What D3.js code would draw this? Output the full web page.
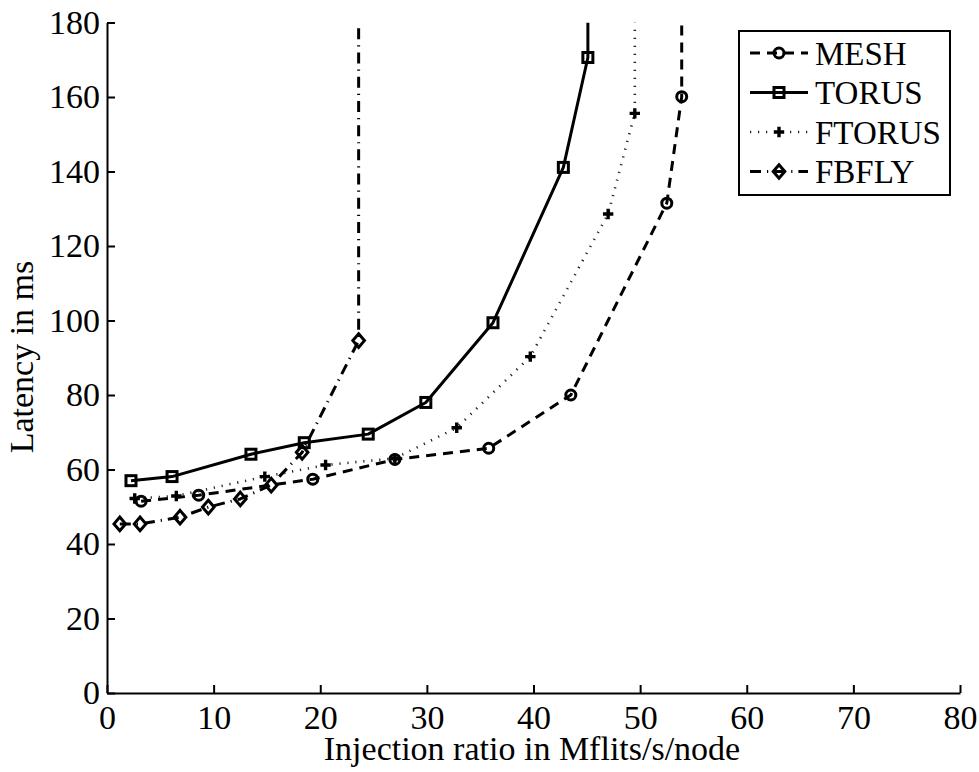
<!DOCTYPE html>
<html><head><meta charset="utf-8">
<script src="https://cdn.jsdelivr.net/npm/d3@7"></script>
<style>body{margin:0;background:#fff}svg{display:block}</style>
</head><body><svg id="c" width="979" height="772"></svg>
<script>
// ---- data ----
const seriesNames = ["MESH", "TORUS", "FTORUS", "FBFLY"];
const meshX   = [3.2, 8.6, 19.3, 27.0, 35.8, 43.5, 52.5, 53.9];
const meshY   = [51.5, 53.1, 57.4, 62.7, 65.7, 80.0, 131.5, 160.1];
const torusX  = [2.25, 6.1, 13.5, 18.5, 24.5, 29.9, 36.2, 42.8, 45.1];
const torusY  = [57.0, 58.1, 64.1, 67.2, 69.5, 78.0, 99.4, 141.1, 170.6];
const ftorusX = [2.6, 6.5, 14.8, 20.5, 27.0, 32.8, 39.7, 47.0, 49.5];
const ftorusY = [52.2, 52.9, 58.1, 61.2, 63.0, 71.2, 90.3, 128.6, 155.6];
const fbflyX  = [1.2, 3.1, 6.85, 9.5, 12.5, 15.4, 18.3, 23.6];
const fbflyY  = [45.4, 45.4, 47.2, 49.9, 52.1, 55.8, 64.6, 94.6];
const xTicks = [0, 10, 20, 30, 40, 50, 60, 70, 80];
const yTicks = [0, 20, 40, 60, 80, 100, 120, 140, 160, 180];
const xLabel = "Injection ratio in Mflits/s/node";
const yLabel = "Latency in ms";

// ---- layout / style ----
const FONT = "'Liberation Serif','Times New Roman',serif";
const FS = 34;
const svg = d3.select("#c");
const x = d3.scaleLinear().domain([0, 80]).range([107, 960]);
const y = d3.scaleLinear().domain([0, 180]).range([693, 22.5]);
const yTop = y.domain()[1];

const series = [
  {name: seriesNames[0], xs: meshX,   ys: meshY,   dash: "10,7",       width: 3,   color: "#000", marker: "circle"},
  {name: seriesNames[1], xs: torusX,  ys: torusY,  dash: null,         width: 3,   color: "#000", marker: "square"},
  {name: seriesNames[2], xs: ftorusX, ys: ftorusY, dash: "1.2,6.8",    width: 2.6, color: "#222", marker: "plus"},
  {name: seriesNames[3], xs: fbflyX,  ys: fbflyY,  dash: "11,6,1.2,6", width: 3,   color: "#000", marker: "diamond"}
];

svg.append("defs").append("clipPath").attr("id", "plot")
  .append("rect").attr("x", x(0)).attr("y", y(yTop))
  .attr("width", x(80) - x(0)).attr("height", y(0) - y(yTop));

function drawMarker(g, type, cx, cy) {
  const s = g.append("g").attr("transform", `translate(${cx},${cy})`)
    .attr("fill", "none").attr("stroke", "#000").attr("stroke-width", 3);
  if (type === "circle") s.append("circle").attr("r", 5);
  else if (type === "square") s.append("rect").attr("x", -5).attr("y", -5).attr("width", 10).attr("height", 10);
  else if (type === "diamond") s.append("path").attr("d", "M0,-6.8L5.8,0L0,6.8L-5.8,0Z");
  else if (type === "plus") s.append("path").attr("d", "M-5.2,0H5.2M0,-5.2V5.2").attr("stroke-width", 3.4);
}

const line = d3.line().x(d => x(d[0])).y(d => y(d[1]));
const plotG = svg.append("g").attr("clip-path", "url(#plot)");
series.forEach(s => {
  const pts = s.xs.map((v, i) => [v, s.ys[i]]);
  // curve saturates: vertical rise from last point to top of axes
  pts.push([s.xs[s.xs.length - 1], yTop]);
  plotG.append("path").attr("d", line(pts)).attr("fill", "none")
    .attr("stroke", s.color).attr("stroke-width", s.width)
    .attr("stroke-dasharray", s.dash).attr("stroke-linejoin", "round");
  s.xs.forEach((v, i) => drawMarker(plotG, s.marker, x(v), y(s.ys[i])));
});

// ---- axes ----
const xAxis = svg.append("g").attr("transform", `translate(0,${y(0)})`)
  .call(d3.axisBottom(x).tickValues(xTicks).tickSizeInner(-8).tickSizeOuter(0).tickPadding(12));
const yAxis = svg.append("g").attr("transform", `translate(${x(0)},0)`)
  .call(d3.axisLeft(y).tickValues(yTicks).tickSizeInner(-8).tickSizeOuter(0).tickPadding(7));
[xAxis, yAxis].forEach(a => {
  a.select(".domain").attr("stroke", "#000").attr("stroke-width", 2);
  a.selectAll(".tick line").attr("stroke", "#000").attr("stroke-width", 2);
  a.selectAll(".tick text").attr("font-family", FONT).attr("font-size", FS).attr("fill", "#000");
});

svg.append("text").attr("x", 532).attr("y", 760).attr("text-anchor", "middle")
  .attr("font-family", FONT).attr("font-size", FS).text(xLabel);
svg.append("text").attr("transform", "translate(33,357) rotate(-90)").attr("text-anchor", "middle")
  .attr("font-family", FONT).attr("font-size", FS).text(yLabel);

// ---- legend ----
const lg = svg.append("g");
lg.append("rect").attr("x", 739).attr("y", 31).attr("width", 211).attr("height", 164)
  .attr("fill", "#fff").attr("stroke", "#000").attr("stroke-width", 2);
series.forEach((s, i) => {
  const cy = 53 + i * 39.5;
  lg.append("line").attr("x1", 750).attr("x2", 808).attr("y1", cy).attr("y2", cy)
    .attr("stroke", s.color).attr("stroke-width", s.width).attr("stroke-dasharray", s.dash);
  drawMarker(lg, s.marker, 779, cy);
  lg.append("text").attr("x", 815).attr("y", cy).attr("dy", "0.35em")
    .attr("font-family", FONT).attr("font-size", 33).text(s.name);
});
</script></body></html>
